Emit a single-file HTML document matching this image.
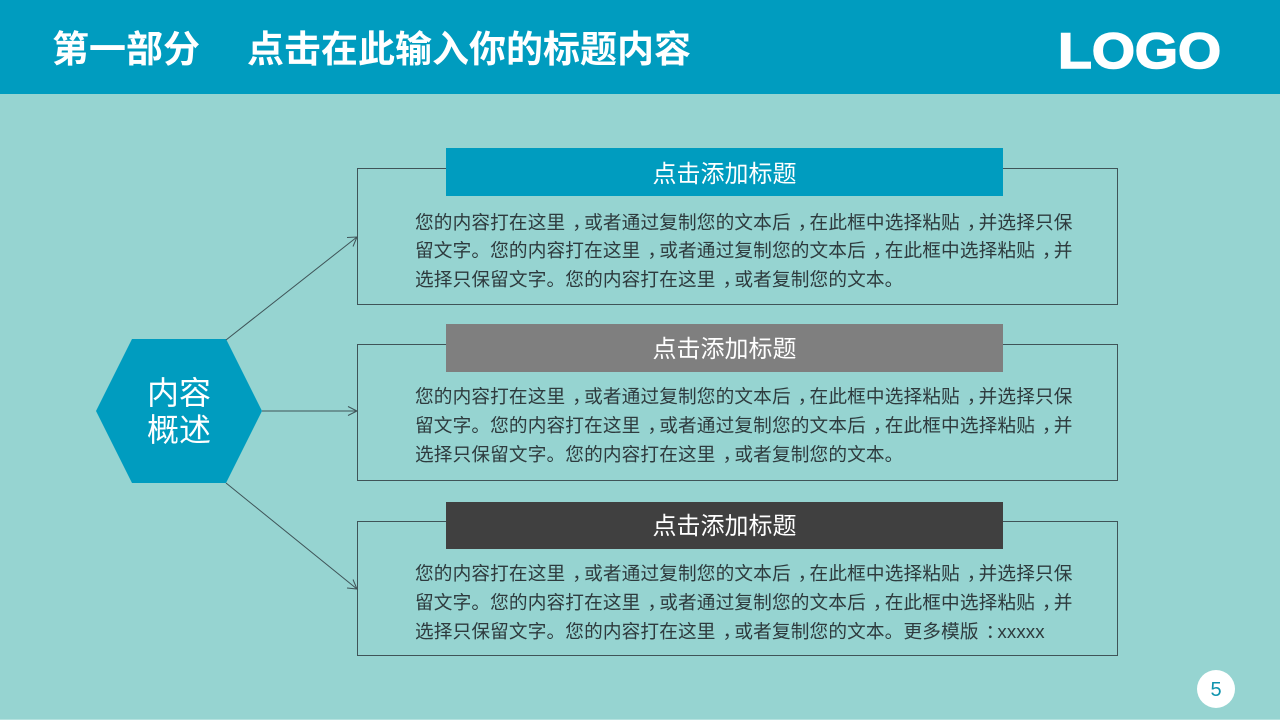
<!DOCTYPE html>
<html lang="zh">
<head>
<meta charset="utf-8">
<style>
html,body{margin:0;padding:0}
body{width:1280px;height:720px;overflow:hidden;position:relative;background:#96d4d1;font-family:"Liberation Sans","Noto Sans CJK SC",sans-serif}
.a{position:absolute;white-space:nowrap}
.hd{left:0;top:0;width:1280px;height:94px;background:#009cbf}
.t{top:28px;height:44px;line-height:44px;font-size:37px;font-weight:700;color:#fff}
.box{left:357px;width:759px;border:1px solid #3f5458}
.bar{left:446px;width:557px;color:#fff;font-size:24px;text-align:center}
.l{left:415px;font-size:18.67px;letter-spacing:.13px;height:29px;line-height:29px;color:#2e3b3e}
.l i{font-style:normal;position:relative;left:7px}
svg{position:absolute;left:0;top:0}
</style>
</head>
<body>
<div class="a hd"></div>
<div class="a t" style="left:52px">第一部分</div>
<div class="a t" style="left:247px">点击在此输入你的标题内容</div>
<div class="a" style="left:1058px;top:23px;width:162px;height:56px;line-height:56px;font-size:50px;font-weight:700;color:#fff;transform-origin:0 50%;transform:scaleX(1.108);-webkit-text-stroke:1.5px #fff">LOGO</div>

<div class="a box" style="top:168px;height:135px"></div>
<div class="a box" style="top:344px;height:135px"></div>
<div class="a box" style="top:521px;height:133px"></div>

<svg width="1280" height="720" viewBox="0 0 1280 720" fill="none">
<polygon points="96,411 132,339 226,339 262,411 226,483 132,483" fill="#009cbf"/>
<g stroke="#3f5458" stroke-width="1">
<path d="M226 340L357 237M262 411H357M226 483L357 589"/>
<path d="M347 237.500L357 237L353 246.500M348 406.500L357 411L348 415.500M353 579.500L357 589L347 588"/>
</g>
<circle cx="1216" cy="689" r="19" fill="#fff"/>
</svg>

<div class="a bar" style="top:148px;height:48px;line-height:53px;background:#009cbf">点击添加标题</div>
<div class="a bar" style="top:324px;height:48px;line-height:52px;background:#7f7f7f">点击添加标题</div>
<div class="a bar" style="top:502px;height:47px;line-height:50px;background:#404040">点击添加标题</div>

<div class="a l" style="top:208px">您的内容打在这里<i>，</i>或者通过复制您的文本后<i>，</i>在此框中选择粘贴<i>，</i>并选择只保</div>
<div class="a l" style="top:236px">留文字。您的内容打在这里<i>，</i>或者通过复制您的文本后<i>，</i>在此框中选择粘贴<i>，</i>并</div>
<div class="a l" style="top:265px">选择只保留文字。您的内容打在这里<i>，</i>或者复制您的文本。</div>

<div class="a l" style="top:382px">您的内容打在这里<i>，</i>或者通过复制您的文本后<i>，</i>在此框中选择粘贴<i>，</i>并选择只保</div>
<div class="a l" style="top:411px">留文字。您的内容打在这里<i>，</i>或者通过复制您的文本后<i>，</i>在此框中选择粘贴<i>，</i>并</div>
<div class="a l" style="top:440px">选择只保留文字。您的内容打在这里<i>，</i>或者复制您的文本。</div>

<div class="a l" style="top:559px">您的内容打在这里<i>，</i>或者通过复制您的文本后<i>，</i>在此框中选择粘贴<i>，</i>并选择只保</div>
<div class="a l" style="top:588px">留文字。您的内容打在这里<i>，</i>或者通过复制您的文本后<i>，</i>在此框中选择粘贴<i>，</i>并</div>
<div class="a l" style="top:617px">选择只保留文字。您的内容打在这里<i>，</i>或者复制您的文本。更多模版<i>：</i>xxxxx</div>

<div class="a" style="left:96px;width:166px;top:375px;text-align:center;color:#fff;font-size:32px;line-height:37px">内容<br>概述</div>
<div class="a" style="left:1197px;width:38px;top:678px;height:24px;line-height:24px;text-align:center;font-size:20px;color:#0e93ad">5</div>
<div class="a" style="left:0;top:719px;width:1280px;height:1px;background:#b5e2df"></div>
</body>
</html>
